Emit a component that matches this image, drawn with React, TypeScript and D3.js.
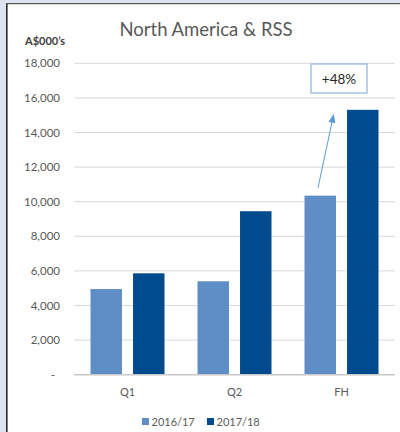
import React from "react";
import * as d3 from "d3";

const categories = ["Q1", "Q2", "FH"];
const seriesNames = ["2016/17", "2017/18"];
const values2016 = [4950, 5400, 10350];
const values2017 = [5860, 9450, 15310];
const yTicks = [0, 2000, 4000, 6000, 8000, 10000, 12000, 14000, 16000, 18000];
const annotationText = "+48%";
const unitLabel = "A$000\u2019s";
const titleText = "North America & RSS";

const W = 400;
const H = 432;
const colors = ["#5F8DC6", "#004B8D"];
const font = "Lato, 'Open Sans', sans-serif";

export default function App() {
  const x0 = d3.scaleBand<string>().domain(categories).range([74, 395]).paddingInner(0).paddingOuter(0);
  const x1 = d3.scaleBand<string>().domain(seriesNames).range([16.5, x0.bandwidth() - 16.5]).paddingInner(0.26);
  const y = d3.scaleLinear().domain([0, 18000]).range([374.7, 63.3]);
  const fmt = d3.format(",");
  const series = [values2016, values2017];

  const fhX = x0("FH")!;
  const arrowStart: [number, number] = [fhX + x1(seriesNames[0])! + x1.bandwidth() * 0.43, y(values2016[2]) - 8];
  const arrowEnd: [number, number] = [fhX + x1(seriesNames[0])! + x1.bandwidth() * 0.93, y(values2017[2]) + 4];
  const ang = Math.atan2(arrowEnd[1] - arrowStart[1], arrowEnd[0] - arrowStart[0]);
  const hl = 9, hw = 3.5;
  const bx = arrowEnd[0] - hl * Math.cos(ang), by = arrowEnd[1] - hl * Math.sin(ang);
  const head = [
    [arrowEnd[0], arrowEnd[1]],
    [bx + hw * Math.sin(ang), by - hw * Math.cos(ang)],
    [bx - hw * Math.sin(ang), by + hw * Math.cos(ang)],
  ];

  return (
    <svg width={W} height={H} style={{ position: "absolute", left: 0, top: 0, background: "#fff" }} fontFamily={font}>
      <rect x={0} y={0} width={W} height={H} fill="#fff" />
      <rect x={0} y={0} width={6} height={H} fill="#DFE3EF" />
      <rect x={0} y={0} width={W} height={3} fill="#DFE3EF" />
      <rect x={6} y={3} width={1.6} height={H} fill="#2a2a2a" />
      <rect x={6} y={3} width={W} height={1.2} fill="#555" />

      <text x={206} y={36} textAnchor="middle" fontSize={18.5} fill="#595959">{titleText}</text>
      <text x={25} y={45} fontSize={11} fontWeight="bold" fill="#404040">{unitLabel}</text>

      {yTicks.map((t) => (
        <g key={t}>
          {t > 0 && <line x1={74} x2={395} y1={y(t)} y2={y(t)} stroke="#D9D9D9" strokeWidth={1} />}
          <text x={t === 0 ? 55 : 60} y={y(t) + 4} textAnchor="end" fontSize={11.5} fill="#595959">
            {t === 0 ? "-" : fmt(t)}
          </text>
        </g>
      ))}

      {categories.map((c, i) => (
        <g key={c} transform={`translate(${x0(c)},0)`}>
          {series.map((s, j) => (
            <rect
              key={j}
              x={x1(seriesNames[j])}
              y={y(s[i])}
              width={x1.bandwidth()}
              height={y(0) - y(s[i])}
              fill={colors[j]}
            />
          ))}
          <text x={x0.bandwidth() / 2} y={396} textAnchor="middle" fontSize={11} fill="#595959">{c}</text>
        </g>
      ))}
      <line x1={74} x2={395} y1={y(0)} y2={y(0)} stroke="#C8C8C8" strokeWidth={1.5} />

      <line x1={arrowStart[0]} y1={arrowStart[1]} x2={bx} y2={by} stroke="#5B9BD5" strokeWidth={1} />
      <polygon points={head.map((p) => p.join(",")).join(" ")} fill="#5B9BD5" />

      <rect x={311} y={64} width={56} height={29} fill="#fff" stroke="#8FB2DD" strokeWidth={1.2} />
      <text x={339} y={83.5} textAnchor="middle" fontSize={13.5} fill="#262626">{annotationText}</text>

      {seriesNames.map((n, j) => (
        <g key={n} transform={`translate(${j === 0 ? 142 : 207},0)`}>
          <rect x={0} y={418} width={7} height={7} fill={colors[j]} />
          <text x={9.5} y={425.5} fontSize={11} fill="#595959">{n}</text>
        </g>
      ))}
    </svg>
  );
}
